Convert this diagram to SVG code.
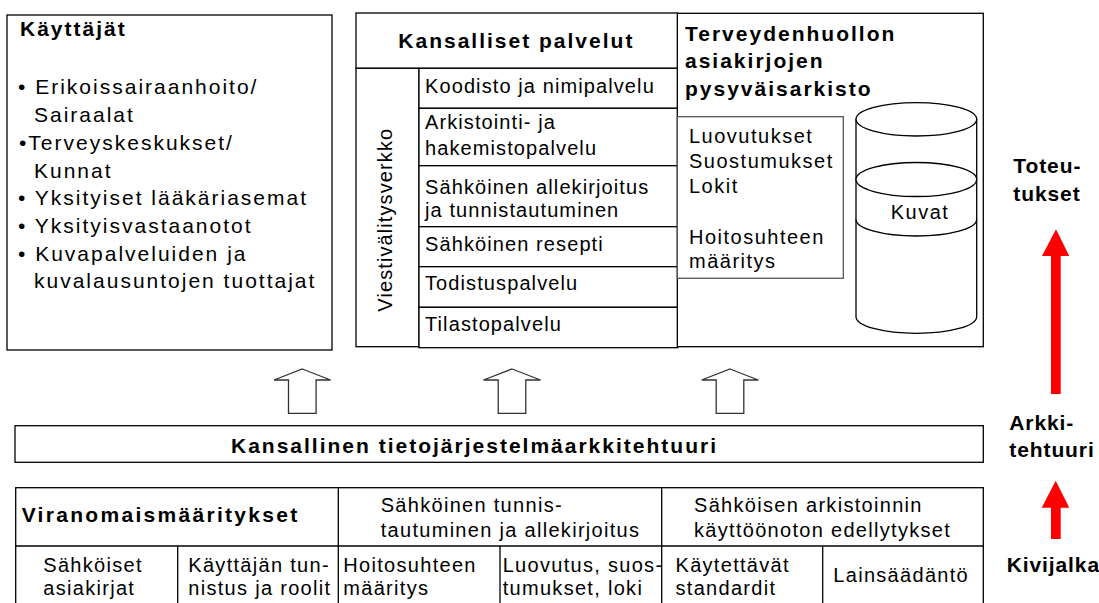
<svg xmlns="http://www.w3.org/2000/svg" width="1099" height="603" viewBox="0 0 1099 603">
<style>
text{font-family:"Liberation Sans",Arial,sans-serif;fill:#000}
.b{font-size:21px;font-weight:bold;letter-spacing:2px}
.r{font-size:21px;font-weight:bold;letter-spacing:0.9px}
.t{font-size:21px;letter-spacing:2px}
.s{font-size:20px;letter-spacing:1.1px}
.i{font-size:20px;letter-spacing:1.5px}
.m{font-size:20px;letter-spacing:1.3px}
.box{fill:#fff;stroke:#000;stroke-width:1.3}
.gbox{fill:#fff;stroke:#555;stroke-width:1.3}
.ln{stroke:#000;stroke-width:1.3;fill:none}
.blk{fill:#fff;stroke:#333;stroke-width:1.3;stroke-linejoin:miter}
.red{fill:#ff0000;stroke:none}
</style>
<rect width="1099" height="603" fill="#fff"/>

<g id="kayttajat">
<rect class="box" x="7" y="15" width="325" height="335"/>
<text class="b" x="20" y="35.7">Käyttäjät</text>
<text class="t" x="18" y="94.3">• Erikoissairaanhoito/</text>
<text class="t" x="34" y="121.7">Sairaalat</text>
<text class="t" x="19" y="150">•Terveyskeskukset/</text>
<text class="t" x="34" y="177.7">Kunnat</text>
<text class="t" x="18" y="205">• Yksityiset lääkäriasemat</text>
<text class="t" x="18" y="232.7">• Yksityisvastaanotot</text>
<text class="t" x="18" y="260.7">• Kuvapalveluiden ja</text>
<text class="t" x="34" y="288">kuvalausuntojen tuottajat</text>
</g>

<g id="kansalliset-palvelut">
<rect class="box" x="356" y="13" width="321.7" height="55.3"/>
<text class="b" x="398.3" y="48.3">Kansalliset palvelut</text>
<rect class="box" x="356" y="68.3" width="63" height="278.4"/>
<text class="s" transform="translate(391.5,311.7) rotate(-90)" x="0" y="0">Viestivälitysverkko</text>
</g>

<g id="koodisto">
<rect class="box" x="419" y="68.3" width="258.7" height="40"/>
<text class="s" x="425" y="93.3">Koodisto ja nimipalvelu</text>
</g>
<g id="arkistointi">
<rect class="box" x="419" y="108.3" width="258.7" height="57.4"/>
<text class="s" x="425" y="129">Arkistointi- ja</text>
<text class="s" x="425" y="155">hakemistopalvelu</text>
</g>
<g id="allekirjoitus">
<rect class="box" x="419" y="165.7" width="258.7" height="61"/>
<text class="s" x="425" y="194.3">Sähköinen allekirjoitus</text>
<text class="s" x="425" y="217">ja tunnistautuminen</text>
</g>
<g id="resepti">
<rect class="box" x="419" y="226.7" width="258.7" height="40"/>
<text class="s" x="425" y="250.7">Sähköinen resepti</text>
</g>
<g id="todistus">
<rect class="box" x="419" y="266.7" width="258.7" height="40.6"/>
<text class="s" x="425" y="290">Todistuspalvelu</text>
</g>
<g id="tilasto">
<rect class="box" x="419" y="307.3" width="258.7" height="40.4"/>
<text class="s" x="425" y="331">Tilastopalvelu</text>
</g>

<g id="arkisto">
<rect class="box" x="677.3" y="13.3" width="306" height="333.4"/>
<text class="b" x="685" y="40.7">Terveydenhuollon</text>
<text class="b" x="685" y="68.3">asiakirjojen</text>
<text class="b" x="685" y="96">pysyväisarkisto</text>
<rect class="gbox" x="677.3" y="116.7" width="166" height="161.6"/>
<text class="i" x="689" y="142.7">Luovutukset</text>
<text class="i" x="689" y="167.7">Suostumukset</text>
<text class="i" x="689" y="192.7">Lokit</text>
<text class="i" x="689" y="244">Hoitosuhteen</text>
<text class="i" x="689" y="268.3">määritys</text>
</g>

<g id="kuvat">
<path class="box" d="M856,119.3 L856,316.7 A60.35,16.7 0 0 0 976.7,316.7 L976.7,119.3 Z"/>
<ellipse class="box" cx="916.35" cy="119.3" rx="60.35" ry="16.7"/>
<ellipse class="box" cx="916.35" cy="179.5" rx="60.35" ry="17"/>
<path class="ln" d="M856,219.5 A60.35,16.5 0 0 0 976.7,219.5"/>
<text class="i" x="890.7" y="219.3">Kuvat</text>
</g>

<g id="arkkitehtuuri">
<rect class="box" x="15" y="425.7" width="968.3" height="36.6"/>
<text class="b" x="231" y="452.7">Kansallinen tietojärjestelmäarkkitehtuuri</text>
</g>

<g id="kivijalka-taulukko">
<rect class="box" x="15.7" y="487.7" width="967.6" height="120"/>
<line class="ln" x1="15.7" y1="546" x2="983.3" y2="546"/>
<line class="ln" x1="338.3" y1="487.7" x2="338.3" y2="610"/>
<line class="ln" x1="661.7" y1="487.7" x2="661.7" y2="610"/>
<line class="ln" x1="177.7" y1="546" x2="177.7" y2="610"/>
<line class="ln" x1="500" y1="546" x2="500" y2="610"/>
<line class="ln" x1="822.7" y1="546" x2="822.7" y2="610"/>
</g>
<g id="viranomaismaaritykset">
<text class="b" x="21.7" y="521.7" style="letter-spacing:2.3px">Viranomaismääritykset</text>
</g>
<g id="tunnistautuminen">
<text class="m" x="380.7" y="511.7">Sähköinen tunnis-</text>
<text class="m" x="380.7" y="536.5">tautuminen ja allekirjoitus</text>
</g>
<g id="arkistoinnin-edellytykset">
<text class="m" x="694" y="511.7">Sähköisen arkistoinnin</text>
<text class="m" x="694" y="536.5">käyttöönoton edellytykset</text>
</g>
<g id="sahkoiset-asiakirjat">
<text class="m" x="43.3" y="571.7">Sähköiset</text>
<text class="m" x="43.3" y="595">asiakirjat</text>
</g>
<g id="kayttajan-tunnistus">
<text class="m" x="188.3" y="571.7">Käyttäjän tun-</text>
<text class="m" x="188.3" y="595">nistus ja roolit</text>
</g>
<g id="hoitosuhde">
<text class="m" x="343.3" y="571.7">Hoitosuhteen</text>
<text class="m" x="343.3" y="595">määritys</text>
</g>
<g id="luovutus">
<text class="m" x="502.7" y="571.7">Luovutus, suos-</text>
<text class="m" x="502.7" y="595">tumukset, loki</text>
</g>
<g id="standardit">
<text class="m" x="675.5" y="571.7">Käytettävät</text>
<text class="m" x="675.5" y="595">standardit</text>
</g>
<g id="lainsaadanto">
<text class="m" x="833.3" y="581.7">Lainsäädäntö</text>
</g>

<g id="tasot">
<text class="r" x="1013.3" y="173.3">Toteu-</text>
<text class="r" x="1013.3" y="201">tukset</text>
<text class="r" x="1009.3" y="430">Arkki-</text>
<text class="r" x="1009.3" y="457.3">tehtuuri</text>
<text class="r" x="1006.7" y="572.3">Kivijalka</text>
</g>

<g id="connectors">
<path class="blk" d="M302.3,369 L330.6,380 L316.1,380 L316.1,413.3 L288.5,413.3 L288.5,380 L274,380 Z"/>
<path class="blk" d="M512,369 L540.5,380 L525.8,380 L525.8,413.3 L498.2,413.3 L498.2,380 L483.5,380 Z"/>
<path class="blk" d="M730,369 L758.3,380 L743.8,380 L743.8,413.3 L716.2,413.3 L716.2,380 L701.7,380 Z"/>
<path class="red" d="M1056,229.3 L1069.3,256 L1060.7,256 L1060.7,394 L1051,394 L1051,256 L1042,256 Z"/>
<path class="red" d="M1055.7,480.7 L1069.3,507.7 L1060.7,507.7 L1060.7,539 L1051,539 L1051,507.7 L1041.7,507.7 Z"/>
</g>
</svg>
